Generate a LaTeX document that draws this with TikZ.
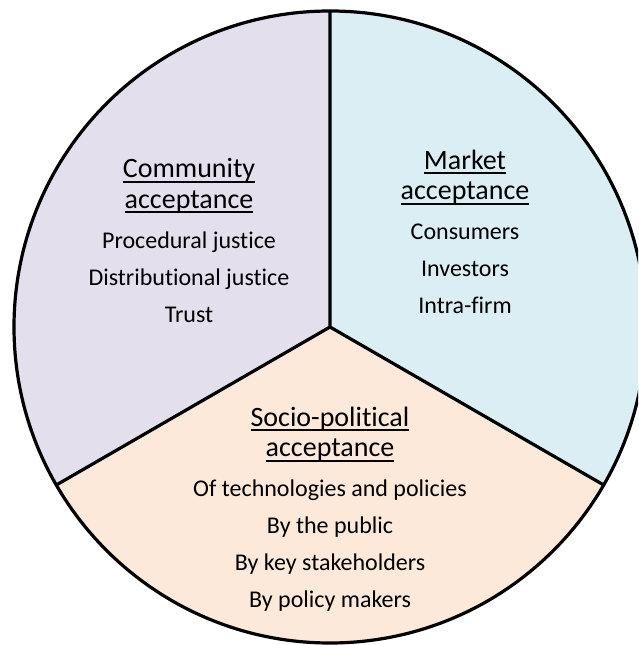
\documentclass[tikz,border=0pt]{standalone}
\usepackage{fontspec}
\setmainfont{Carlito}[Ligatures=NoCommon]
\definecolor{commfill}{HTML}{E4DFEC}
\definecolor{markfill}{HTML}{DAEEF3}
\definecolor{sociofill}{HTML}{FDE9D9}
\newcommand\hdul[1]{\setbox0\hbox{#1}\rlap{\rule[-0.17em]{\wd0}{0.07em}}\box0}
\begin{document}
\begin{tikzpicture}[x=1pt,y=1pt,
  rim/.style={line width=3.2pt, draw=black},
  head/.style={font=\fontsize{28}{30}\selectfont, anchor=base, inner sep=0pt},
  itm/.style={font=\fontsize{24}{26}\selectfont, anchor=base, inner sep=0pt}]
\useasboundingbox (0,0) rectangle (638,645);
\clip (0,0) rectangle (638,645);
\coordinate (O) at (330,318);
\coordinate (T) at (330,634);
\coordinate (LL) at (56.3,160);
\coordinate (LR) at (603.7,160);
\fill[commfill] (O) -- (T) arc[start angle=90, end angle=210, radius=316] -- cycle;
\fill[markfill] (O) -- (LR) arc[start angle=-30, end angle=90, radius=316] -- cycle;
\fill[sociofill] (O) -- (LL) arc[start angle=210, end angle=330, radius=316] -- cycle;
\draw[rim] (O) circle[radius=316];
\draw[rim, line join=miter] (T) -- (O) -- (LL);
\draw[rim, line join=miter] (O) -- (LR);
% Community
\node[head] (c1) at (189,467) {\hdul{Community}};
\node[head] (c2) at (189,436.5) {\hdul{acceptance}};
\node[itm] (c3) at (189,396) {Procedural justice};
\node[itm] (c4) at (189,359.3) {Distributional justice};
\node[itm] (c5) at (189,322.6) {Trust};
% Market
\node[head] (m1) at (465,475.5) {\hdul{Market}};
\node[head] (m2) at (465,445) {\hdul{acceptance}};
\node[itm] (m3) at (465,405) {Consumers};
\node[itm] (m4) at (465,368.3) {Investors};
\node[itm] (m5) at (465,331.6) {Intra-firm};
% Socio-political
\node[head] (s1) at (330,218.5) {\hdul{Socio-political}};
\node[head] (s2) at (330,188) {\hdul{acceptance}};
\node[itm] (s3) at (330,148) {Of technologies and policies};
\node[itm] (s4) at (330,111.3) {By the public};
\node[itm] (s5) at (330,74.6) {By key stakeholders};
\node[itm] (s6) at (330,37.9) {By policy makers};
\end{tikzpicture}
\end{document}
